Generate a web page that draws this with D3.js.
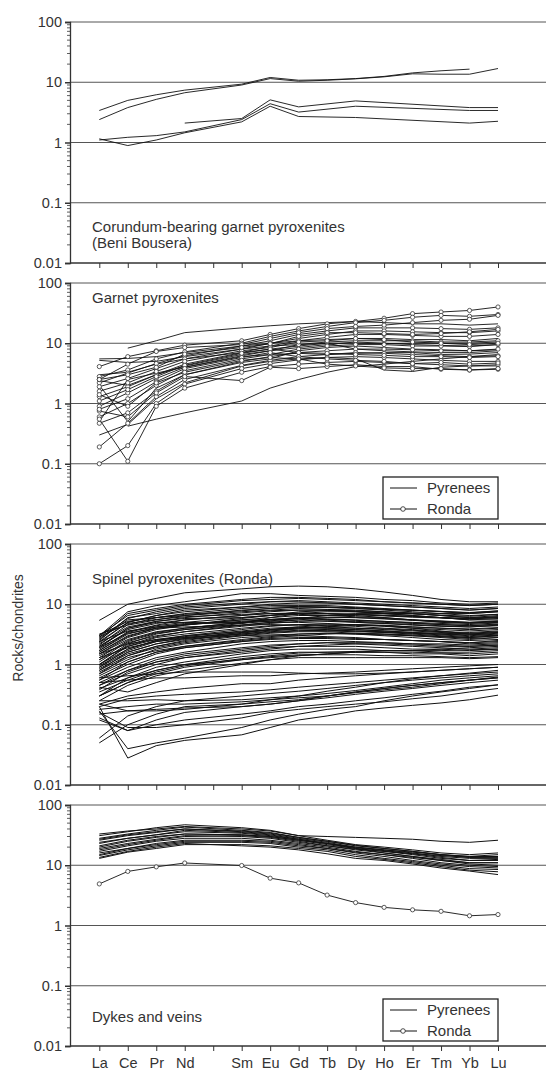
<!DOCTYPE html>
<html>
<head>
<meta charset="utf-8">
<script src="https://cdn.jsdelivr.net/npm/d3@7"></script>
<style>
  body { margin: 0; background: #fff; }
  text { font-family: "Liberation Sans", Arial, sans-serif; fill: #333; }
</style>
</head>
<body>
<svg id="chart" width="546" height="1070"></svg>
<script>
// rare earth elements on the x axis (Pm has a tick but no label and no data)
const ree = ["La","Ce","Pr","Nd","Pm","Sm","Eu","Gd","Tb","Dy","Ho","Er","Tm","Yb","Lu"];
const measured = ree.filter(e => e !== "Pm"); // order of the values in every series below
const yTicks = [0.01, 0.1, 1, 10, 100];
const yTickLabels = ["0.01", "0.1", "1", "10", "100"];

// panel 1 : corundum-bearing garnet pyroxenites (Beni Bousera)
const corundumPyroxenites = [
  [3.4, 5.0, 6.2, 7.4, 9.3, 12, 10.8, 11, 11.5, 12.5, 14.3, 15.5, 16.5, null],
  [2.4, 3.8, 5.2, 6.7, 9.0, 11.5, 10.4, 10.8, 11.4, 12.3, 13.8, 13.6, 13.6, 16.9],
  [1.15, 0.89, 1.1, 1.45, 2.2, 4.0, 2.7, null, 2.6, null, null, null, 2.1, 2.25],
  [1.1, 1.22, 1.3, 1.5, 2.4, 4.4, 3.2, null, 4.0, null, null, null, 3.4, 3.4],
  [null, null, null, 2.1, 2.5, 5.1, 3.9, null, 4.9, null, null, null, 3.8, 3.8]
];

// panel 2 : garnet pyroxenites
const garnetPyrenees = [
  [null, 8.3, 11, 15, 18, 19.5, 21, 22, 23, 22, 21, 21, 20, 21],
  [5.5, 5.6, 6, 7, 9, 10, 11, 11.5, 12, 12, 11.5, 11.5, 11, 12],
  [5.2, 4.8, 5, 6, 8, 9, 9.5, 10, 10, 9.8, 10, 10, 10, 10.5],
  [null, 0.42, 0.55, 0.7, 1.1, 1.8, 2.5, 3.3, 4.1, 4.5, 5, 5.5, 6, 6.5],
  [0.3, 0.45, 1.2, 2.2, 4.2, 5, 5.5, 5.8, 5.5, 3.6, 3.4, 4.0, 4.2, 4.2],
  [2.0, 0.5, 1.8, 3.0, 4.8, 5.5, 7.5, 8.5, 9, 8.5, 8, 7.8, 7.5, 7.8],
  [3.0, 3.3, 4.5, 5.5, 7, 8, 9, 10, 8, 7.5, 7.2, 7, 7, 7.5],
  [0.5, 2.5, 3.2, 4, 6, 6.5, 6.8, 6.5, 6.8, 7, 7, 6.5, 6.6, 7],
  [2.4, 2.0, 3.0, 4.2, 6.5, 7.5, 8.5, 9.5, 10.5, 10, 9.5, 9.2, 9, 9.5]
];
const garnetRonda = [
  [4.1, 6.0, 7.5, 9.3, 11, 14, 17.5, 21, 23, 26, 31, 33, 35, 40],
  [2.8, 3.6, 5.5, 7.2, 10, 13, 16, 19, 22, 24, 27, 29, 28, 30],
  [2.2, 3.2, 4.6, 6.2, 9, 11, 14, 16, 18, 18, 18, 17.5, 17, 18],
  [1.9, 2.6, 3.8, 5.5, 8, 10, 12, 14, 16, 16, 15.5, 15, 15, 16],
  [1.3, 1.9, 3.0, 4.5, 7, 9, 11, 12.5, 14, 14, 13.5, 13, 13, 14],
  [0.9, 1.5, 2.6, 4.0, 6.2, 7.5, 9.5, 10.5, 11, 11, 11, 10.5, 10.5, 11],
  [0.6, 1.0, 2.0, 3.5, 5.5, 6.5, 8, 9, 9.5, 9.5, 9, 9, 8.8, 9.5],
  [0.47, 0.7, 1.6, 3.0, 5, 6, 7, 7.5, 8, 8, 7.8, 7.5, 7.5, 8],
  [0.19, 0.47, 1.3, 2.5, 4.3, 5.2, 6, 6.5, 7, 6.8, 6.5, 6.2, 6, 6.2],
  [0.1, 0.2, 1.0, 2.1, 3.8, 4.6, 5.3, 5.8, 6, 5.8, 5.5, 5.2, 5, 5],
  [0.55, 0.11, 0.9, 1.8, 3.3, 4.1, 4.5, 4.8, 5, 4.8, 4.6, 4.4, 4.2, 4.4],
  [0.75, 0.6, 1.5, 2.8, 2.4, 4.0, 3.8, 4.1, 4.4, 4.1, 4.1, 3.7, 3.6, 3.7],
  [1.6, 2.2, 3.4, 5.0, 7.5, 8.5, 10.5, 11, 12, 11.5, 10.5, 10, 9.5, 10],
  [2.5, 4.5, 7.3, 8.5, 9.5, 12, 15, 17.5, 19, 20, 22, 24, 25, 29],
  [1.1, 1.7, 2.8, 4.3, 6.8, 8, 7, 6.8, 6.5, 6.3, 6, 6, 5.8, 6.0],
  [0.8, 1.2, 2.3, 3.8, 5.8, 7, 6, 5.5, 5.2, 5.0, 4.6, 4.8, 4.5, 4.7],
  [2.5, 3.0, 4.0, 6.6, 8.5, 9.8, 13, 15, 15, 14.5, 14, 14.5, 15.5, 17],
  [1.4, 0.9, 2.2, 3.3, 5.2, 5.8, 5.5, 4.5, 4.2, 3.9, 3.8, 3.8, 3.6, 3.8]
];

// panel 3 : spinel pyroxenites (Ronda)
const spinelRonda = [
  [5.4, 10, 12.5, 15.5, 18, 19.5, 20, 19.5, 18, 16, 14, 12, 11, 11],
  [3.0, 7.5, 9.5, 11, 15, 15, 14, 13.5, 13, 12, 11.5, 10.5, 10, 10.5],
  [2.8, 7.0, 8.5, 10, 12, 13, 13, 12.5, 12, 11, 10.5, 10, 9.5, 10],
  [2.5, 6.0, 7.0, 8.5, 10, 11, 11.5, 11, 10.5, 10, 9.5, 9, 8.5, 9],
  [2.3, 5.0, 6.5, 8.0, 9.0, 9.5, 9.5, 9.5, 9, 8.5, 8, 7.5, 7, 7.5],
  [3.2, 4.5, 5.5, 6.5, 8.0, 8.5, 9.0, 9.0, 8.5, 8, 7.5, 7, 6.5, 6.8],
  [2.0, 4.0, 5.0, 5.0, 4.8, 6.0, 7.0, 7.5, 7.5, 7, 7, 6.5, 6.0, 6.2],
  [1.8, 3.5, 4.5, 5.5, 6.5, 7.0, 7.0, 7, 6.8, 6.5, 6.2, 6.0, 5.5, 5.8],
  [1.6, 3.0, 4.0, 4.5, 5.5, 6.0, 6.5, 6.5, 6.2, 6, 5.5, 5.2, 5.0, 5.2],
  [1.5, 2.6, 3.5, 4.0, 5.0, 5.5, 6.0, 5.5, 5.0, 4.8, 4.5, 4.3, 4.2, 4.4],
  [1.4, 2.3, 3.0, 3.5, 4.5, 5.0, 5.0, 4.8, 4.5, 4.3, 4.0, 3.8, 3.6, 3.8],
  [1.2, 2.0, 2.8, 3.2, 4.0, 4.4, 4.6, 4.5, 4.3, 4.0, 3.8, 3.5, 3.3, 3.5],
  [1.0, 1.8, 2.5, 2.9, 3.6, 4.0, 4.2, 4.0, 3.8, 3.6, 3.4, 3.2, 3.0, 3.2],
  [0.9, 1.6, 2.2, 2.6, 3.2, 3.6, 3.9, 3.8, 3.6, 3.4, 3.2, 3.0, 2.8, 3.0],
  [0.8, 1.4, 1.9, 2.3, 3.0, 3.3, 3.5, 3.5, 3.3, 3.2, 3.0, 2.8, 2.6, 2.8],
  [1.3, 1.9, 2.4, 2.7, 3.0, 3.1, 3.2, 3.3, 3.2, 3.1, 3.0, 2.9, 2.8, 3.0],
  [2.6, 5.5, 6.0, 6.5, 7.5, 8.0, 8.5, 8.2, 8.0, 7.5, 7.0, 6.5, 6.0, 6.5],
  [2.2, 4.2, 5.2, 5.8, 6.0, 6.5, 6.8, 6.5, 6.5, 6.0, 5.5, 5.0, 4.8, 5.0],
  [1.7, 3.2, 4.2, 4.8, 5.0, 5.2, 5.5, 5.2, 5.0, 4.8, 4.6, 4.4, 4.2, 4.5],
  [1.1, 2.2, 3.2, 3.8, 4.5, 4.6, 4.5, 4.3, 4.0, 3.8, 3.6, 3.4, 3.2, 3.4],
  [0.7, 1.2, 1.8, 2.2, 2.8, 3.0, 3.0, 2.9, 2.8, 2.6, 2.5, 2.4, 2.3, 2.4],
  [0.6, 1.0, 1.5, 1.9, 2.4, 2.7, 2.8, 2.8, 2.7, 2.6, 2.5, 2.4, 2.2, 2.3],
  [0.55, 0.9, 1.3, 1.6, 2.2, 2.4, 2.5, 2.5, 2.4, 2.3, 2.2, 2.1, 2.0, 2.1],
  [0.5, 0.8, 1.2, 1.5, 1.9, 2.1, 2.2, 2.3, 2.2, 2.1, 2.0, 1.9, 1.8, 1.9],
  [0.45, 0.7, 1.0, 1.3, 1.7, 1.9, 2.0, 2.0, 2.0, 1.9, 1.8, 1.8, 1.7, 1.8],
  [0.4, 0.6, 0.9, 1.1, 1.5, 1.7, 1.8, 1.8, 1.8, 1.7, 1.7, 1.6, 1.6, 1.7],
  [0.35, 0.55, 0.8, 1.0, 1.35, 1.5, 1.6, 1.6, 1.6, 1.6, 1.5, 1.5, 1.4, 1.5],
  [0.3, 0.5, 0.7, 0.9, 1.2, 1.35, 1.45, 1.45, 1.45, 1.4, 1.4, 1.35, 1.3, 1.35],
  [0.25, 0.45, 0.65, 0.8, 1.05, 1.2, 1.3, 1.3, 1.3, 1.3, 1.3, 1.3, 1.25, 1.3],
  [0.6, 0.65, 0.7, 0.75, 0.75, 0.75, 0.72, 0.7, 0.7, 0.72, 0.75, 0.8, 0.85, 0.9],
  [0.5, 0.55, 0.6, 0.6, 0.65, 0.65, 0.7, 0.72, 0.75, 0.8, 0.85, 0.9, 0.95, 1.0],
  [0.22, 0.3, 0.35, 0.4, 0.48, 0.48, 0.55, 0.6, 0.65, 0.7, 0.75, 0.8, 0.85, 0.9],
  [0.2, 0.27, 0.3, 0.32, 0.35, 0.38, 0.42, 0.46, 0.5, 0.55, 0.6, 0.65, 0.7, 0.75],
  [0.25, 0.25, 0.26, 0.25, 0.26, 0.28, 0.3, 0.33, 0.37, 0.42, 0.48, 0.55, 0.6, 0.65],
  [0.18, 0.2, 0.22, 0.22, 0.24, 0.26, 0.28, 0.3, 0.34, 0.38, 0.42, 0.48, 0.55, 0.6],
  [0.15, 0.17, 0.18, 0.19, 0.2, 0.22, 0.25, 0.28, 0.32, 0.36, 0.4, 0.45, 0.5, 0.55],
  [0.13, 0.08, 0.1, 0.12, 0.15, 0.17, 0.2, 0.22, 0.25, 0.28, 0.32, 0.36, 0.42, 0.46],
  [0.16, 0.09, 0.09, 0.1, 0.13, 0.16, 0.18, 0.2, 0.22, 0.24, 0.27, 0.3, 0.35, 0.4],
  [0.2, 0.028, 0.045, 0.055, 0.068, 0.09, 0.12, 0.14, 0.17, 0.19, 0.21, 0.23, 0.26, 0.31],
  [0.17, 0.04, 0.05, 0.06, 0.09, 0.12, 0.15, 0.18, 0.2, 0.25, 0.3, 0.35, 0.4, 0.46],
  [0.05, 0.1, 0.15, 0.2, 0.22, 0.24, 0.26, 0.3, 0.35, 0.4, 0.45, 0.5, 0.55, 0.6],
  [0.06, 0.14, 0.2, 0.25, 0.3, 0.33, 0.36, 0.4, 0.45, 0.5, 0.55, 0.6, 0.65, 0.7],
  [0.12, 0.08, 0.12, 0.16, 0.2, 0.22, 0.25, 0.3, 0.35, 0.4, 0.45, 0.5, 0.55, 0.62],
  [0.22, 0.17, 0.17, 0.18, 0.22, 0.26, 0.3, 0.36, 0.42, 0.5, 0.58, 0.65, 0.72, 0.8],
  [2.0, 3.8, 4.8, 5.5, 6.5, 7.5, 8.0, 8.0, 7.8, 7.5, 7.2, 7.0, 7.0, 7.5],
  [1.9, 3.3, 4.0, 4.2, 4.5, 5.0, 5.5, 6.0, 6.0, 5.8, 5.5, 5.3, 5.0, 5.3],
  [1.0, 2.0, 2.6, 3.0, 3.5, 3.8, 4.0, 4.2, 4.5, 4.5, 4.2, 4.0, 3.8, 4.0],
  [0.85, 1.5, 2.0, 2.5, 3.3, 3.8, 4.2, 4.5, 4.6, 4.4, 4.0, 3.6, 3.2, 3.0],
  [0.75, 1.3, 1.7, 2.0, 2.5, 2.8, 3.0, 3.2, 3.3, 3.2, 3.1, 2.9, 2.7, 2.8],
  [0.45, 0.8, 1.1, 1.3, 1.6, 1.8, 2.0, 2.1, 2.2, 2.2, 2.1, 2.0, 2.0, 2.1],
  [0.3, 0.6, 0.8, 1.0, 1.2, 1.3, 1.4, 1.5, 1.6, 1.6, 1.6, 1.55, 1.5, 1.6],
  [1.5, 2.8, 3.8, 4.5, 5.8, 6.5, 7.5, 7.8, 7.5, 7.0, 6.5, 6.0, 5.8, 6.0],
  [2.4, 5.0, 6.5, 7.5, 9.0, 10, 10.5, 10.5, 10, 9.5, 9.0, 8.5, 8.0, 8.5],
  [1.2, 2.4, 3.3, 3.8, 4.8, 5.3, 5.8, 5.7, 5.5, 5.2, 4.9, 4.6, 4.4, 4.6],
  [0.65, 1.1, 1.6, 2.0, 2.6, 2.9, 3.2, 3.3, 3.2, 3.0, 2.8, 2.6, 2.5, 2.6],
  [0.95, 1.7, 2.4, 2.8, 3.4, 3.7, 3.9, 3.9, 3.8, 3.6, 3.4, 3.3, 3.2, 3.4],
  [0.42, 0.35, 0.5, 0.7, 1.0, 1.2, 1.4, 1.5, 1.6, 1.7, 1.7, 1.8, 1.9, 2.0],
  [1.6, 2.9, 4.0, 4.6, 5.5, 5.5, 5.8, 6.5, 7.0, 7.0, 6.5, 6.0, 5.5, 5.5],
  [3.0, 6.5, 8.0, 9.5, 11.5, 12, 12.5, 12, 11.5, 11, 10.5, 10, 9.5, 10],
  [2.7, 5.8, 7.5, 9.0, 10.5, 11, 11, 10.5, 10, 9.5, 9, 8.5, 8, 8.5],
  [2.1, 4.6, 6.0, 7.0, 8.5, 9.0, 9.2, 9.0, 8.8, 8.3, 8.0, 7.6, 7.2, 7.8],
  [1.9, 4.0, 5.2, 6.0, 7.2, 7.8, 8.0, 7.9, 7.6, 7.2, 6.9, 6.6, 6.3, 6.8],
  [1.7, 3.4, 4.4, 5.0, 6.0, 6.6, 7.0, 6.9, 6.7, 6.4, 6.1, 5.9, 5.7, 6.0],
  [1.3, 2.5, 3.4, 4.0, 5.0, 5.6, 6.0, 6.1, 6.0, 5.7, 5.4, 5.1, 4.9, 5.1],
  [1.0, 2.1, 2.9, 3.5, 4.3, 4.8, 5.2, 5.3, 5.2, 5.0, 4.8, 4.6, 4.4, 4.7],
  [0.9, 1.8, 2.5, 3.0, 3.8, 4.3, 4.6, 4.7, 4.6, 4.4, 4.2, 4.0, 3.9, 4.1],
  [0.8, 1.6, 2.2, 2.7, 3.4, 3.8, 4.1, 4.1, 4.0, 3.9, 3.7, 3.5, 3.4, 3.6],
  [0.7, 1.4, 2.0, 2.4, 3.1, 3.4, 3.6, 3.7, 3.6, 3.5, 3.3, 3.1, 2.9, 3.1],
  [1.5, 2.2, 2.6, 2.8, 3.2, 3.5, 3.7, 3.6, 3.5, 3.4, 3.3, 3.2, 3.1, 3.3],
  [2.4, 3.6, 4.2, 4.6, 5.2, 5.6, 5.8, 5.6, 5.4, 5.2, 5.0, 4.8, 4.6, 4.9],
  [2.9, 4.8, 5.6, 6.2, 6.8, 7.0, 7.2, 7.0, 6.8, 6.6, 6.3, 6.0, 5.8, 6.2],
  [0.55, 1.1, 1.6, 1.9, 2.4, 2.6, 2.7, 2.7, 2.6, 2.6, 2.5, 2.4, 2.3, 2.5],
  [0.38, 0.75, 1.1, 1.4, 1.8, 2.0, 2.2, 2.3, 2.3, 2.3, 2.2, 2.2, 2.1, 2.2],
  [0.3, 0.5, 0.75, 0.95, 1.25, 1.4, 1.55, 1.6, 1.65, 1.7, 1.7, 1.7, 1.75, 1.8],
  [3.1, 5.2, 6.0, 6.8, 7.8, 8.5, 9.0, 8.8, 8.5, 8.2, 7.9, 7.6, 7.3, 7.7]
];

// panel 4 : dykes and veins
const dykesPyrenees = [
  [33, 37, 40, 44, 40, 37, 31, 30, 29, 28, 27, 25, 24, 26],
  [31, 36, 42, 47, 42, 38, 31, 26, 22, 20, 18, 16, 15, 16],
  [28, 33, 38, 43, 38, 35, 29, 25, 21, 19, 17, 15, 14, 14],
  [26, 31, 35, 40, 36, 33, 28, 24, 20, 18, 16, 14, 13, 13],
  [23, 28, 32, 36, 34, 31, 27, 23, 19, 17, 15, 13, 12, 12],
  [21, 26, 30, 33, 32, 30, 26, 22, 19, 16, 14, 12.5, 11, 11],
  [19, 23, 27, 31, 30, 28, 24, 21, 18, 16, 14, 12, 10.5, 10],
  [17, 21, 25, 28, 28, 26, 23, 20, 17, 15, 13, 11, 10, 9.5],
  [16, 19, 23, 26, 26, 25, 22, 19, 16, 14, 12, 10.5, 9.5, 9],
  [14.5, 18, 21, 24, 24, 23, 20, 18, 15, 13, 11.5, 10, 8.8, 8.5],
  [13, 16.5, 19, 22, 22, 21, 19, 17, 14, 12.5, 11, 9.5, 8.3, 7.8],
  [13.5, 17, 20, 23, 21, 20, 18, 15.5, 13, 12, 10.5, 9, 8, 7],
  [18, 22, 26, 30, 31, 29, 25, 21, 18.5, 17, 15.5, 14.5, 13.5, 14],
  [24, 28, 32, 38, 35, 32, 27, 23, 20, 18, 16.5, 15, 14, 15],
  [15, 19, 22, 25, 25, 24, 21, 19, 16.5, 15, 13.5, 12, 11, 11],
  [20, 25, 29, 33, 32, 30, 26, 23, 19.5, 17.5, 15.5, 13.5, 12, 12.5],
  [27, 32, 36, 40, 37, 34, 29, 25, 21.5, 19, 17, 15, 13.5, 13.5]
];
const dykesRonda = [
  [4.9, 7.9, 9.4, 10.9, 9.9, 6.1, 5.1, 3.2, 2.4, 2.0, 1.82, 1.72, 1.45, 1.52]
];

const panels = [
  { top: 22,  titles: ["Corundum-bearing garnet pyroxenites", "(Beni Bousera)"], titleY: 232, plain: corundumPyroxenites, ronda: [], legend: false },
  { top: 283, titles: ["Garnet pyroxenites"], titleY: 303, plain: garnetPyrenees, ronda: garnetRonda, legend: true },
  { top: 544, titles: ["Spinel pyroxenites (Ronda)"], titleY: 584, plain: spinelRonda, ronda: [], legend: false },
  { top: 805, titles: ["Dykes and veins"], titleY: 1022, plain: dykesPyrenees, ronda: dykesRonda, legend: true }
];

const panelHeight = 241;
const axisX = 70;
const rightX = 546;

const svg = d3.select("#chart");

const x = d3.scaleLinear()
  .domain([0, ree.length - 1])
  .range([99.3, 498]);

function toPoints(series){
  return measured
    .map((e, i) => ({ e: e, v: series[i] }))
    .filter(p => p.v != null);
}

panels.forEach((p, pi) => {
  const y = d3.scaleLog()
    .domain([0.01, 100])
    .range([p.top + panelHeight, p.top]);

  const g = svg.append("g");

  // horizontal lines at every decade (top one is the frame, bottom one the x axis)
  g.selectAll("line.grid")
    .data(yTicks)
    .join("line")
    .attr("class", "grid")
    .attr("x1", axisX).attr("x2", rightX)
    .attr("y1", d => y(d)).attr("y2", d => y(d))
    .attr("stroke", d => d === 0.01 ? "#333" : "#555")
    .attr("stroke-width", d => d === 0.01 ? 1.3 : 1);

  // left axis with log minor ticks
  const yAxis = d3.axisLeft(y)
    .tickValues(yTicks)
    .tickFormat((d, i) => yTickLabels[i])
    .tickSize(5)
    .tickPadding(3);
  const ga = g.append("g")
    .attr("transform", `translate(${axisX},0)`)
    .call(yAxis);
  ga.select(".domain").attr("stroke", "#333").attr("stroke-width", 1.3);
  ga.selectAll(".tick line").attr("stroke", "#333").attr("stroke-width", 1.5);
  ga.selectAll(".tick text")
    .attr("font-size", 14.5)
    .attr("font-family", "Liberation Sans, Arial, sans-serif")
    .attr("fill", "#333");

  const minor = [];
  yTicks.slice(0, -1).forEach(d => { for (let k = 2; k <= 9; k++) minor.push(d * k); });
  g.selectAll("line.minor")
    .data(minor)
    .join("line")
    .attr("class", "minor")
    .attr("x1", axisX - 3).attr("x2", axisX)
    .attr("y1", d => y(d)).attr("y2", d => y(d))
    .attr("stroke", "#333").attr("stroke-width", 0.8);

  // x ticks at the bottom of every panel
  const xAxis = d3.axisBottom(x)
    .tickValues(d3.range(ree.length))
    .tickSize(5)
    .tickPadding(7)
    .tickFormat(i => (pi === panels.length - 1 && ree[i] !== "Pm") ? ree[i] : "");
  const gx = g.append("g")
    .attr("transform", `translate(0,${p.top + panelHeight})`)
    .call(xAxis);
  gx.select(".domain").remove();
  gx.selectAll(".tick line").attr("stroke", "#333").attr("stroke-width", 1);
  gx.selectAll(".tick text")
    .attr("font-size", 14.5)
    .attr("font-family", "Liberation Sans, Arial, sans-serif")
    .attr("fill", "#333");

  const line = d3.line()
    .x(d => x(ree.indexOf(d.e)))
    .y(d => y(d.v));

  // plain lines (Pyrenees / no symbol)
  g.append("g")
    .selectAll("path")
    .data(p.plain)
    .join("path")
    .attr("d", s => line(toPoints(s)))
    .attr("fill", "none")
    .attr("stroke", "#111")
    .attr("stroke-width", pi === 2 || pi === 3 ? 1.0 : 0.9);

  // Ronda lines with open circles
  const gr = g.append("g");
  gr.selectAll("path")
    .data(p.ronda)
    .join("path")
    .attr("d", s => line(toPoints(s)))
    .attr("fill", "none")
    .attr("stroke", "#111")
    .attr("stroke-width", 0.9);
  gr.selectAll("circle")
    .data(p.ronda.flatMap(s => toPoints(s)))
    .join("circle")
    .attr("cx", d => x(ree.indexOf(d.e)))
    .attr("cy", d => y(d.v))
    .attr("r", 2.1)
    .attr("fill", "#fff")
    .attr("stroke", "#333")
    .attr("stroke-width", 0.8);

  // panel titles
  g.selectAll("text.title")
    .data(p.titles)
    .join("text")
    .attr("class", "title")
    .attr("x", 92)
    .attr("y", (d, i) => p.titleY + i * 16)
    .attr("font-size", 15)
    .text(d => d);

  // legend
  if (p.legend) {
    const lx = 383, ly = p.top + 194;
    const lg = g.append("g");
    lg.append("rect")
      .attr("x", lx).attr("y", ly)
      .attr("width", 115).attr("height", 42)
      .attr("fill", "#fff")
      .attr("stroke", "#222").attr("stroke-width", 1.3);
    const items = ["Pyrenees", "Ronda"];
    items.forEach((name, i) => {
      const cy = ly + 11 + i * 21;
      lg.append("line")
        .attr("x1", lx + 7).attr("x2", lx + 34)
        .attr("y1", cy).attr("y2", cy)
        .attr("stroke", "#111").attr("stroke-width", 1);
      if (name === "Ronda") {
        lg.append("circle")
          .attr("cx", lx + 20).attr("cy", cy).attr("r", 2.3)
          .attr("fill", "#fff").attr("stroke", "#222").attr("stroke-width", 0.8);
      }
      lg.append("text")
        .attr("x", lx + 44).attr("y", cy + 5)
        .attr("font-size", 15)
        .text(name);
    });
  }
});

// y axis title
svg.append("text")
  .attr("transform", "translate(23,628) rotate(-90)")
  .attr("text-anchor", "middle")
  .attr("font-size", 14)
  .text("Rocks/chondrites");
</script>
</body>
</html>
